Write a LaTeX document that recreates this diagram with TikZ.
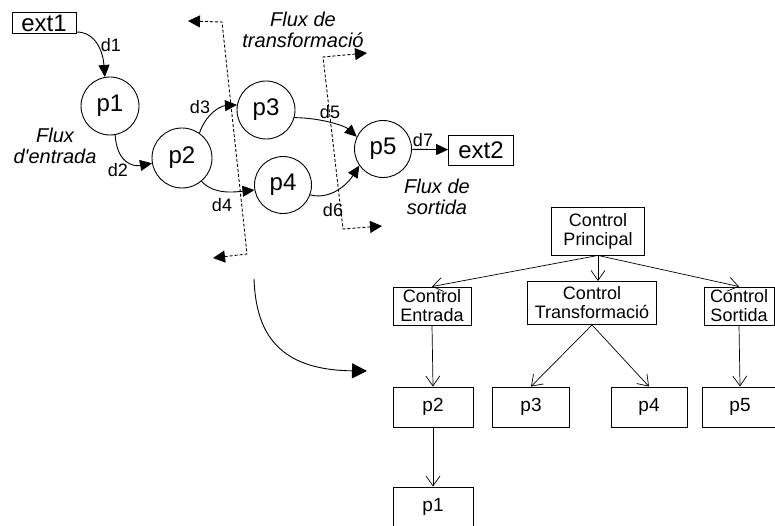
\documentclass[tikz,border=0pt]{standalone}
\usepackage{fontspec}
\setmainfont{Liberation Sans}
\usetikzlibrary{arrows.meta}

\begin{document}
\begin{tikzpicture}[x=1pt, y=-1pt, line width=0.9pt,
  proc/.style={circle, draw, minimum size=58pt, inner sep=0pt, font=\fontsize{24}{26}\selectfont},
  ext/.style={rectangle, draw, inner sep=1pt, font=\fontsize{24}{26}\selectfont},
  lbl/.style={inner sep=0pt, font=\fontsize{18}{19}\selectfont},
  flux/.style={inner sep=0pt, align=center, font=\fontsize{20}{21}\selectfont\itshape},
  ctrl/.style={rectangle, draw, inner sep=0pt, align=center, font=\fontsize{18}{19}\selectfont},
  leaf/.style={ctrl, minimum width=78pt, minimum height=40pt, font=\fontsize{19}{20}\selectfont},
  flow/.style={-{Triangle[length=12pt,width=11pt]}},
  bnd/.style={dash pattern=on 3pt off 2pt, {Triangle[length=12pt,width=12pt]}-{Triangle[length=12pt,width=12pt]}},
  call/.style={-{Straight Barb[length=10pt,width=14pt]}, line width=0.7pt}]
\useasboundingbox (0,0) rectangle (775,526);
\node[ext, minimum width=64pt, minimum height=21pt] (ext1) at (44,23) {ext1};
\node[proc] (p1) at (110,106) {p1};
\node[proc, minimum size=60pt] (p2) at (182,158) {p2};
\node[proc] (p3) at (266,110) {p3};
\node[proc, minimum size=57pt] (p4) at (283,185) {p4};
\node[proc, minimum size=57pt] (p5) at (383,149) {p5};
\node[ext, minimum width=65pt, minimum height=30pt] (ext2) at (481,150) {ext2};
\draw[flow] ([yshift=-9pt]ext1.east) .. controls (96,32) and (103,52) .. (p1.100);
\draw[flow] (p1.-80) .. controls (117,162) and (132,167) .. (p2.190);
\draw[flow] (p2.55) .. controls (206,114) and (220,106) .. (p3.170);
\draw[flow] (p2.-50) .. controls (214,195) and (235,192) .. (p4.190);
\draw[flow] (p3.-15) .. controls (322,118) and (345,126) .. (p5.155);
\draw[flow] (p4.-20) .. controls (330,200) and (347,185) .. (p5.215);
\draw[flow] (p5) -- (ext2);
\node[lbl] (d1) at (111,45) {d1};
\node[lbl] (d2) at (118,170) {d2};
\node[lbl] (d3) at (200,107) {d3};
\node[lbl] (d4) at (222,205) {d4};
\node[lbl] (d5) at (330,112) {d5};
\node[lbl] (d6) at (333,210) {d6};
\node[lbl] (d7) at (423,140) {d7};
\node[flux] (fin) at (55,146) {Flux\\d\textquotesingle entrada};
\node[flux] (ftr) at (303,30) {Flux de\\transformació};
\node[flux] (fso) at (437,197) {Flux de\\sortida};
\coordinate (ba0) at (188,21);
\coordinate (ba1) at (222,22);
\coordinate (ba2) at (247,254);
\coordinate (ba3) at (213,258);
\draw[bnd] (ba0) -- (ba1) -- (ba2) -- (ba3);
\coordinate (bb0) at (367,53);
\coordinate (bb1) at (323,57);
\coordinate (bb2) at (343,229);
\coordinate (bb3) at (382,226);
\draw[bnd] (bb0) -- (bb1) -- (bb2) -- (bb3);
\coordinate (mapS) at (254,279);
\coordinate (mapE) at (367,371);
\draw[-{Triangle[length=15pt,width=15pt]}] (mapS) .. controls (256,335) and (280,370) .. (mapE);
\node[ctrl, minimum width=93pt, minimum height=48pt] (prin) at (598,231) {Control\\Principal};
\node[ctrl, minimum width=78pt, minimum height=38pt] (ent) at (432,306) {Control\\Entrada};
\node[ctrl, minimum width=129pt, minimum height=43pt] (trf) at (592,303) {Control\\Transformació};
\node[ctrl, minimum width=70pt, minimum height=38pt] (sor) at (739,306) {Control\\Sortida};
\node[leaf, minimum width=80pt] (q2) at (433,407) {p2};
\node[leaf, minimum width=80pt] (q1) at (433,507) {p1};
\node[leaf, minimum width=77pt] (q3) at (531,407) {p3};
\node[leaf, minimum width=76pt] (q4) at (649,407) {p4};
\node[leaf, minimum width=75pt] (q5) at (740,407) {p5};
\draw[call] (prin.south) -- (ent.north);
\draw[call] (prin.south) -- (prin.south |- trf.north);
\draw[call] (prin.south) -- (sor.north);
\draw[call] (trf.south) -- (q3.north);
\draw[call] (trf.south) -- (q4.north);
\draw[call] (ent.south) -- (q2.north);
\draw[call] (q2.south) -- (q1.north);
\draw[call] (sor.south) -- (q5.north);
\end{tikzpicture}
\end{document}
